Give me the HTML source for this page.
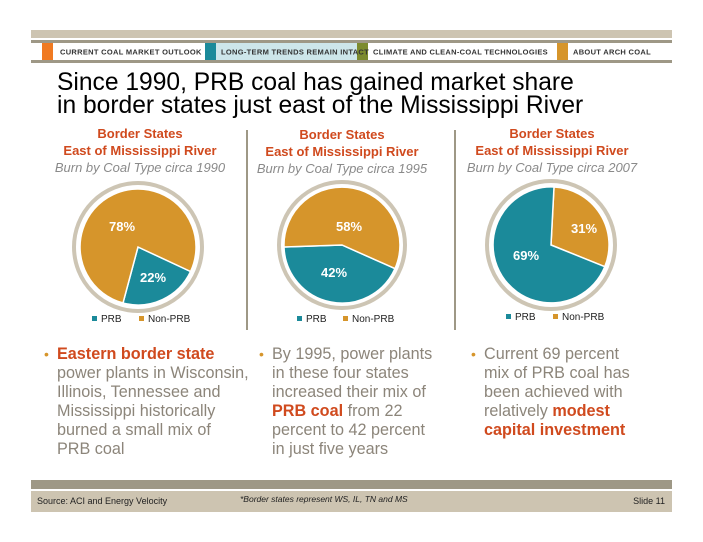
<!DOCTYPE html>
<html><head><meta charset="utf-8"><style>
body{margin:0;background:#fff}
svg{display:block;font-family:"Liberation Sans",Arial,sans-serif}
</style></head><body>
<svg width="703" height="542" viewBox="0 0 703 542">
<rect x="31" y="30" width="641" height="8" fill="#cdc4b1"/>
<rect x="31" y="40" width="641" height="3" fill="#9e9886"/>
<rect x="31" y="60" width="641" height="3" fill="#9e9886"/>
<rect x="42" y="43" width="11" height="17" fill="#f07a22"/>
<rect x="205" y="43" width="11" height="17" fill="#1b8a9a"/>
<rect x="216" y="43" width="141" height="17" fill="#cde6ea"/>
<rect x="357" y="43" width="11" height="17" fill="#7c8b2e"/>
<rect x="557" y="43" width="11" height="17" fill="#d6952b"/>
<g font-size="7.5" font-weight="bold" fill="#333" letter-spacing="0.3">
<text x="60" y="54.5">CURRENT  COAL  MARKET  OUTLOOK</text>
<text x="221" y="54.5">LONG-TERM  TRENDS  REMAIN  INTACT</text>
<text x="373" y="54.5">CLIMATE  AND  CLEAN-COAL  TECHNOLOGIES</text>
<text x="573" y="54.5">ABOUT  ARCH  COAL</text>
</g>
<g font-size="24.6" fill="#000">
<text x="57" y="90">Since 1990, PRB coal has gained market share</text>
<text x="57" y="113">in border states just east of the Mississippi River</text>
</g>
<rect x="246" y="130" width="2" height="200" fill="#9e9886"/>
<rect x="454" y="130" width="2" height="200" fill="#9e9886"/>
<g text-anchor="middle" font-size="13" font-weight="bold" fill="#d04a1e">
<text x="140" y="138">Border States</text><text x="140" y="155">East of Mississippi River</text>
<text x="342" y="139">Border States</text><text x="342" y="156">East of Mississippi River</text>
<text x="552" y="138">Border States</text><text x="552" y="155">East of Mississippi River</text>
</g>
<g text-anchor="middle" font-size="13" font-style="italic" fill="#8a8a8a">
<text x="140" y="172">Burn by Coal Type circa 1990</text>
<text x="342" y="173">Burn by Coal Type circa 1995</text>
<text x="552" y="172">Burn by Coal Type circa 2007</text>
</g>
<g fill="none" stroke="#cdc5b4" stroke-width="4">
<circle cx="138" cy="247" r="64"/><circle cx="342" cy="245" r="63"/><circle cx="551" cy="245" r="64"/>
</g>
<g stroke="#fff" stroke-width="1.5">
<path d="M138 247 L190.6 271.5 A58 58 0 0 1 123 303 Z" fill="#1b8a9a"/>
<path d="M138 247 L123 303 A58 58 0 1 1 190.6 271.5 Z" fill="#d6952b"/>
<path d="M342 245 L395 268.6 A58 58 0 0 1 284 247 Z" fill="#1b8a9a"/>
<path d="M342 245 L284 247 A58 58 0 1 1 395 268.6 Z" fill="#d6952b"/>
<path d="M551 245 L554 187 A58 58 0 0 1 604.8 266.7 Z" fill="#d6952b"/>
<path d="M551 245 L604.8 266.7 A58 58 0 1 1 554 187 Z" fill="#1b8a9a"/>
</g>
<g text-anchor="middle" font-size="13" font-weight="bold" fill="#fff">
<text x="122" y="231">78%</text><text x="153" y="282">22%</text>
<text x="349" y="231">58%</text><text x="334" y="277">42%</text>
<text x="584" y="233">31%</text><text x="526" y="260">69%</text>
</g>
<g font-size="10" fill="#222">
<rect x="92" y="316" width="5" height="5" fill="#1b8a9a"/><text x="101" y="322">PRB</text>
<rect x="139" y="316" width="5" height="5" fill="#d6952b"/><text x="148" y="322">Non-PRB</text>
<rect x="297" y="316" width="5" height="5" fill="#1b8a9a"/><text x="306" y="322">PRB</text>
<rect x="343" y="316" width="5" height="5" fill="#d6952b"/><text x="352" y="322">Non-PRB</text>
<rect x="506" y="314" width="5" height="5" fill="#1b8a9a"/><text x="515" y="320">PRB</text>
<rect x="553" y="314" width="5" height="5" fill="#d6952b"/><text x="562" y="320">Non-PRB</text>
</g>
<g font-size="16.2" fill="#8c857a">
<text x="44" y="359" fill="#d6952b" font-size="14">•</text>
<text x="57" y="359" fill="#d04a1e" font-weight="bold">Eastern border state</text>
<text x="57" y="378">power plants in Wisconsin,</text>
<text x="57" y="397">Illinois, Tennessee and</text>
<text x="57" y="416">Mississippi historically</text>
<text x="57" y="435">burned a small mix of</text>
<text x="57" y="454">PRB coal</text>
<text x="259" y="359" fill="#d6952b" font-size="14">•</text>
<text x="272" y="359">By 1995, power plants</text>
<text x="272" y="378">in these four states</text>
<text x="272" y="397">increased their mix of</text>
<text x="272" y="416"><tspan fill="#d04a1e" font-weight="bold">PRB coal</tspan> from 22</text>
<text x="272" y="435">percent to 42 percent</text>
<text x="272" y="454">in just five years</text>
<text x="471" y="359" fill="#d6952b" font-size="14">•</text>
<text x="484" y="359">Current 69 percent</text>
<text x="484" y="378">mix of PRB coal has</text>
<text x="484" y="397">been achieved with</text>
<text x="484" y="416">relatively <tspan fill="#d04a1e" font-weight="bold">modest</tspan></text>
<text x="484" y="435" fill="#d04a1e" font-weight="bold">capital investment</text>
</g>
<rect x="31" y="480" width="641" height="9" fill="#9e9886"/>
<rect x="31" y="491" width="641" height="21" fill="#cdc4b1"/>
<g font-size="9" fill="#222">
<text x="37" y="504">Source: ACI and Energy Velocity</text>
<text x="240" y="502" font-style="italic" font-size="8.5">*Border states represent WS, IL, TN and MS</text>
<text x="665" y="504" text-anchor="end">Slide 11</text>
</g>
</svg>
</body></html>
